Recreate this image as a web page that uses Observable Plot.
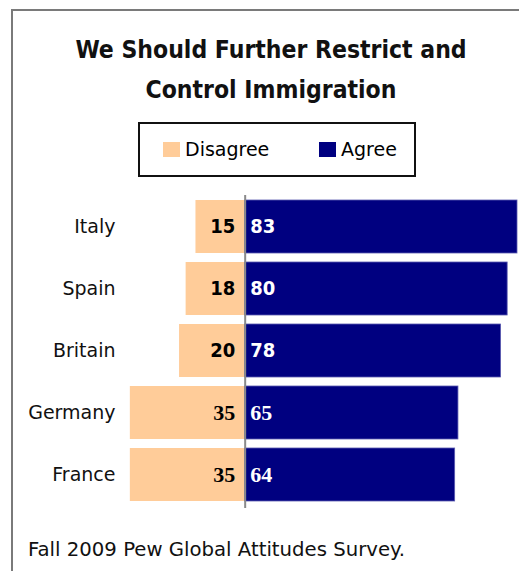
<!DOCTYPE html>
<html>
<head>
<meta charset="utf-8">
<script src="https://cdn.jsdelivr.net/npm/d3@7"></script>
<script src="https://cdn.jsdelivr.net/npm/@observablehq/plot@0.6"></script>
<style>
  html, body { margin: 0; padding: 0; background: #fff; }
  #wrap { position: relative; width: 519px; height: 571px; overflow: hidden; background: #fff; font-family: "DejaVu Sans", sans-serif; }
  #frame { position: absolute; left: 11px; top: 9px; width: 700px; height: 800px; border-left: 2px solid #7a7a7a; border-top: 2px solid #7a7a7a; }
  #title { position: absolute; left: 12px; width: 518px; top: 30px; text-align: center; font-family: "DejaVu Sans Condensed", "DejaVu Sans", sans-serif; font-weight: bold; font-size: 24.5px; line-height: 40px; color: #111; }
  #legend { position: absolute; left: 138px; top: 122px; width: 274px; height: 51px; border: 2px solid #111; font-size: 19px; }
  .item { position: absolute; top: 14px; display: flex; align-items: center; height: 22px; }
  .sw { width: 17px; height: 15px; margin-right: 5px; }
  #chart { position: absolute; left: 0; top: 185px; }
  #caption { position: absolute; left: 28px; top: 538px; font-size: 19.7px; color: #111; white-space: nowrap; }
</style>
</head>
<body>
<div id="wrap">
  <div id="frame"></div>
  <div id="title"></div>
  <div id="legend"></div>
  <div id="chart"></div>
  <div id="caption"></div>
</div>
<script>
const titleLines = ["We Should Further Restrict and", "Control Immigration"];
const caption = "Fall 2009 Pew Global Attitudes Survey.";
const countries = ["Italy", "Spain", "Britain", "Germany", "France"];
const disagree = [15, 18, 20, 35, 35];
const agree = [83, 80, 78, 65, 64];
const seriesNames = ["Disagree", "Agree"];
const seriesColors = ["#FFCC99", "#000080"];

document.getElementById("title").innerHTML = titleLines.join("<br>");
document.getElementById("caption").textContent = caption;

const legend = document.getElementById("legend");
const legendX = [23, 179];
seriesNames.forEach((name, i) => {
  const item = document.createElement("div");
  item.className = "item";
  item.style.left = legendX[i] + "px";
  const sw = document.createElement("div");
  sw.className = "sw";
  sw.style.background = seriesColors[i];
  const label = document.createElement("span");
  label.textContent = name;
  item.appendChild(sw);
  item.appendChild(label);
  legend.appendChild(item);
});

const rows = countries.map((c, i) => ({country: c, disagree: -disagree[i], agree: agree[i], d: disagree[i], a: agree[i], serif: i >= 3}));

const chart = Plot.plot({
  width: 519,
  height: 331,
  marginLeft: 120,
  marginRight: 2,
  marginTop: 5,
  marginBottom: 5,
  style: {fontFamily: "DejaVu Sans, sans-serif", background: "transparent"},
  x: {domain: [-38, 83], axis: null},
  y: {domain: countries, padding: 0.14, label: null},
  marks: [
    Plot.barX(rows, {y: "country", x1: 0, x2: "disagree", fill: seriesColors[0]}),
    Plot.barX(rows, {y: "country", x1: 0, x2: "agree", fill: seriesColors[1], stroke: "#5a5ab0", strokeWidth: 0.8}),
    Plot.ruleX([0], {stroke: "#8a8a8a", strokeWidth: 2, insetTop: 5, insetBottom: 3}),
    Plot.axisY({tickSize: 0, tickPadding: 5, fontSize: 19, fill: "#111", label: null}),
    Plot.text(rows.filter(r => !r.serif), {y: "country", x: 0, text: "d", textAnchor: "end", dx: -10, fontSize: 20, fontWeight: "bold", fontFamily: "DejaVu Sans Condensed, sans-serif", fill: "#000"}),
    Plot.text(rows.filter(r => !r.serif), {y: "country", x: 0, text: "a", textAnchor: "start", dx: 5, fontSize: 20, fontWeight: "bold", fontFamily: "DejaVu Sans Condensed, sans-serif", fill: "#fff"}),
    Plot.text(rows.filter(r => r.serif), {y: "country", x: 0, text: "d", textAnchor: "end", dx: -10, fontSize: 22, fontWeight: "bold", fontFamily: "Liberation Serif, serif", fill: "#000"}),
    Plot.text(rows.filter(r => r.serif), {y: "country", x: 0, text: "a", textAnchor: "start", dx: 5, fontSize: 22, fontWeight: "bold", fontFamily: "Liberation Serif, serif", fill: "#fff"})
  ]
});
document.getElementById("chart").appendChild(chart);
</script>
</body>
</html>
